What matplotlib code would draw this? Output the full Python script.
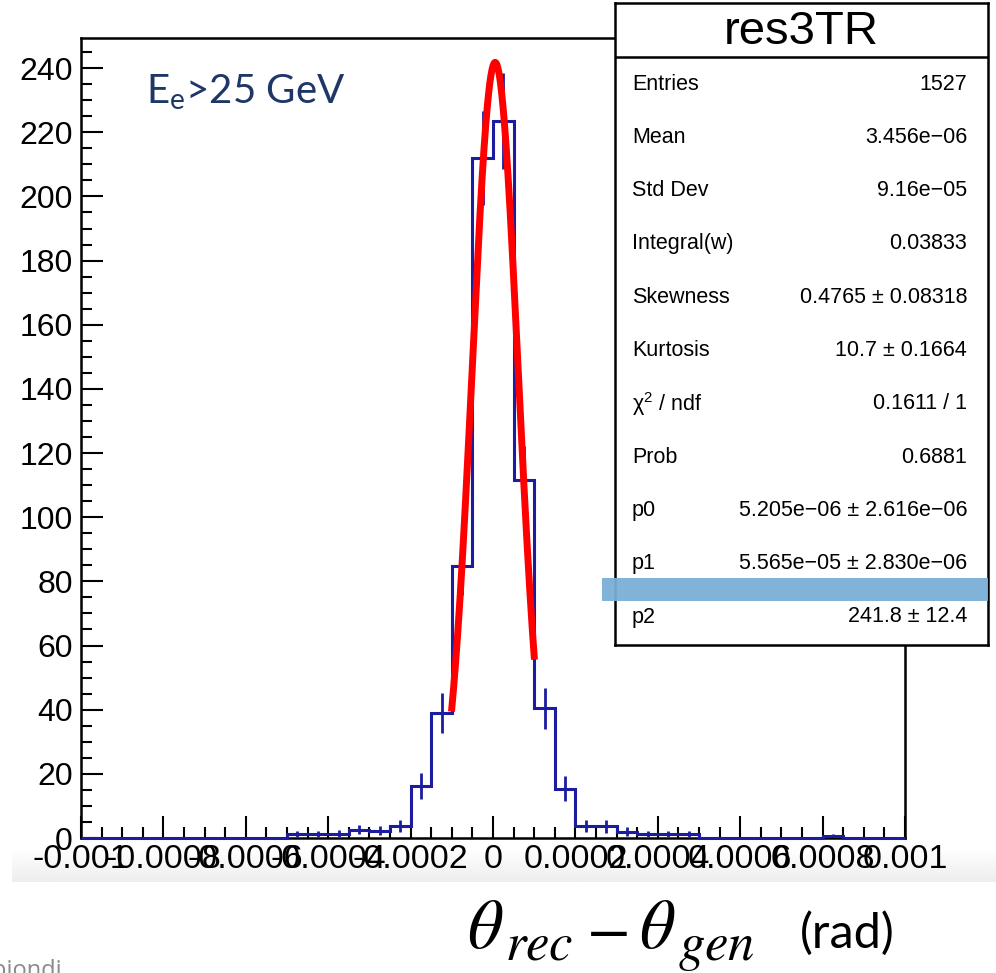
import matplotlib
matplotlib.use("Agg")
import matplotlib.pyplot as plt
import numpy as np
from matplotlib.patches import Rectangle
from matplotlib.ticker import MultipleLocator

# histogram res3TR : 40 bins between -0.001 and 0.001
x_min, x_max = -0.001, 0.001
bin_edges = np.linspace(x_min, x_max, 41)

# bin contents (left to right)
contents = [0, 0, 0, 0, 0, 0, 0, 0, 0, 0,
            1.2, 1.2, 1.4, 2.6, 2.3, 3.7, 16.2, 39.0, 84.8, 212.0,
            223.5, 111.5, 40.5, 15.4, 3.8, 3.6, 2.0, 1.2, 1.2, 1.2,
            0, 0, 0, 0, 0, 0, 0.6, 0, 0, 0]
errors = [0, 0, 0, 0, 0, 0, 0, 0, 0, 0,
          1.0, 1.0, 1.1, 1.5, 1.4, 1.9, 4.0, 6.2, 9.2, 14.6,
          15.0, 10.6, 6.4, 3.9, 1.9, 1.9, 1.4, 1.0, 1.0, 1.0,
          0, 0, 0, 0, 0, 0, 0.7, 0, 0, 0]

# gaussian fit (p0 = mean, p1 = sigma, p2 = constant)
p0, p1, p2 = 5.205e-06, 5.565e-05, 241.8
fit_range = (-0.0001, 0.0001)

x_ticks = [-0.001, -0.0008, -0.0006, -0.0004, -0.0002, 0, 0.0002, 0.0004, 0.0006, 0.0008, 0.001]
x_ticklabels = ["-0.001", "-0.0008", "-0.0006", "-0.0004", "-0.0002", "0",
                "0.0002", "0.0004", "0.0006", "0.0008", "0.001"]

stat_names = ["Entries", "Mean", "Std Dev", "Integral(w)", "Skewness", "Kurtosis",
              r"χ$^{\mathregular{2}}$ / ndf", "Prob", "p0", "p1", "p2"]
stat_values = ["1527", "3.456e\u221206", "9.16e\u221205", "0.03833", "0.4765 ± 0.08318",
               "10.7 ± 0.1664", "0.1611 / 1", "0.6881",
               "5.205e\u221206 ± 2.616e\u221206", "5.565e\u221205 ± 2.830e\u221206", "241.8 ± 12.4"]

W, H = 996, 973
def fx(px):
    return px / W
def fy(py):
    return 1 - py / H

root_font = ["Liberation Sans", "DejaVu Sans"]
blue = "#1c1ca0"

fig = plt.figure(figsize=(W / 100, H / 100), dpi=100)

# pale grey band under the canvas (screenshot of the slide)
band = fig.add_axes([fx(12), fy(882), fx(996) - fx(12), (882 - 848) / H], zorder=-5)
band.imshow(np.linspace(1.0, 0.93, 50).reshape(-1, 1), cmap="gray", vmin=0, vmax=1,
            aspect="auto", extent=(0, 1, 0, 1))
band.axis("off")

ax = fig.add_axes([fx(81), fy(838), fx(905) - fx(81), (838 - 38) / H])
counts = np.array(contents)
errs = np.array(errors)
centers = 0.5 * (bin_edges[:-1] + bin_edges[1:])

ax.stairs(counts, bin_edges, color=blue, lw=2.2, clip_on=False, zorder=3)
filled = counts > 0
ax.errorbar(centers[filled], counts[filled], yerr=errs[filled], fmt="none",
            ecolor=blue, elinewidth=2.0, capsize=0, zorder=3)

xf = np.linspace(fit_range[0], fit_range[1], 300)
ax.plot(xf, p2 * np.exp(-0.5 * ((xf - p0) / p1) ** 2), color="red", lw=5, zorder=4)

ax.set_xlim(x_min, x_max)
ax.set_ylim(0, 249.4)
ax.set_xticks(x_ticks)
ax.set_xticklabels(x_ticklabels)
ax.xaxis.set_minor_locator(MultipleLocator(0.00005))
ax.yaxis.set_major_locator(MultipleLocator(20))
ax.yaxis.set_minor_locator(MultipleLocator(5))
ax.tick_params(which="both", direction="in", top=False, right=False, width=1.5)
ax.tick_params(which="major", length=16)
ax.tick_params(which="minor", length=8)
ax.tick_params(axis="x", pad=4, labelsize=24.5)
ax.tick_params(axis="y", pad=6, labelsize=23)
for lab in ax.get_xticklabels() + ax.get_yticklabels():
    lab.set_family(root_font)
for sp in ax.spines.values():
    sp.set_linewidth(1.8)

fig.text(fx(146), fy(92), r"E$_\mathregular{e}$>25 GeV", color="#1f3767",
         fontsize=29, family="Lato", va="center", ha="left")

# stats box
sb = fig.add_axes([fx(615), fy(645), fx(988) - fx(615), (645 - 3) / H], zorder=5)
sb.set_xticks([])
sb.set_yticks([])
sb.set_xlim(0, 1)
sb.set_ylim(645, 3)
for sp in sb.spines.values():
    sp.set_linewidth(1.8)
sb.axhline(57, color="black", lw=1.8)
sb.text(0.5, 32, "res3TR", fontsize=34, family=root_font, ha="center", va="center")
row_y = 84
for name, val in zip(stat_names, stat_values):
    sb.text((632 - 615) / (988 - 615), row_y, name, fontsize=15.5, family=root_font,
            ha="left", va="center")
    sb.text((967 - 615) / (988 - 615), row_y, val, fontsize=15.5, family=root_font,
            ha="right", va="center")
    row_y += 53.3

# highlight stripe over the box
fig.add_artist(Rectangle((fx(602), fy(601)), fx(988) - fx(602), (601 - 578) / H,
                         transform=fig.transFigure, facecolor="#7aafd6", edgecolor="none",
                         alpha=0.95, zorder=10))

# axis title written on the slide (equation with full size subscripts)
renderer = fig.canvas.get_renderer()
pieces = [(r"$\theta$", 50, 0, 2), (r"$rec$", 38, 12, 12), (r"$-$", 46, 0, 12),
          (r"$\theta$", 50, 0, 2), (r"$gen$", 38, 12, 0)]
x_pos = 467
base_y = 948
for txt, size, drop, gap in pieces:
    t = fig.text(fx(x_pos), fy(base_y + drop), txt, fontsize=size, math_fontfamily="stix",
                 ha="left", va="baseline")
    x_pos += t.get_window_extent(renderer).width + gap
fig.text(fx(895), fy(948), "(rad)", fontsize=35, family="Lato", ha="right", va="baseline")

fig.text(-0.008, fy(977), "piondi", fontsize=17, family="Open Sans", color="#8a8a8a",
         ha="left", va="baseline")

fig.savefig("out.png", dpi=100)
